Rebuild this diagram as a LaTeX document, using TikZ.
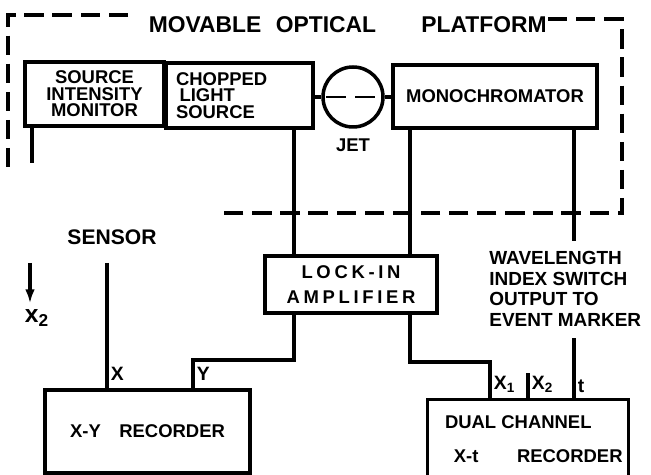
\documentclass[tikz,border=0pt]{standalone}
\usepackage{fontspec}
\setmainfont{Liberation Sans}
\usetikzlibrary{arrows.meta,positioning}
\tikzset{
	font=\bfseries\fontsize{10.5}{9.4}\selectfont,
	>={Latex[length=8pt,width=5.5pt]},
	box/.style={draw, line width=2pt, inner sep=0pt, align=center},
	wire/.style={line width=2pt},
	platform/.style={line width=2.6pt, dash pattern=on 11pt off 5pt},
	title/.style={font=\bfseries\fontsize{13}{15}\selectfont},
	note/.style={font=\bfseries\fontsize{10.8}{11.8}\selectfont},
	lbl/.style={font=\bfseries\fontsize{11}{12}\selectfont, inner xsep=2pt, inner ysep=4pt}
}
\newcommand{\spaced}[1]{{\addfontfeature{LetterSpace=20}#1}}

\begin{document}
\begin{tikzpicture}[x=0.02cm, y=-0.02cm]  % pixel-like units, y downwards
\useasboundingbox (0,0) rectangle (651,475);

% movable optical platform
\draw[platform] (128,15) -- (8,15) -- (8,167);
\draw[platform] (548,19) -- (622,19) -- (622,213) -- (223,213);
\node[title] (movable) at (205,25) {MOVABLE};
\node[title] (optical) at (326,25) {OPTICAL};
\node[title] (platform) at (484,25) {PLATFORM};

% boxes on the platform
\node[box, minimum width=2.78cm, minimum height=1.28cm] (monitor) at (94.5,94) {SOURCE\\INTENSITY\\MONITOR};
\node[box, minimum width=2.94cm, minimum height=1.3cm, text width=2.54cm, inner xsep=0.2cm, align=left] (chopper) at (239.5,95.5) {CHOPPED\\\hspace*{2pt}LIGHT\\SOURCE};
\node[draw, circle, line width=2pt, minimum size=1.2cm] (jet) at (353,97) {};
\node (jetlabel) [below=2pt of jet] {JET};
\node[box, minimum width=4.08cm, minimum height=1.26cm] (mono) at (495,96.5) {MONOCHROMATOR};

% boxes below
\node[box, minimum width=3.44cm, minimum height=1.14cm] (amp) at (351,284.5) {\spaced{LOCK-IN}\\[4.5pt]\spaced{AMPLIFIER}};
\node[box, minimum width=4.1cm, minimum height=1.66cm] (xy) at (147.5,431.5) {X-Y\hspace{1em}RECORDER};
\node[minimum width=4cm, minimum height=1.5cm, inner sep=0pt] (dual) at (528,437.5) {};
\draw[wire] (dual.south west) -- (dual.north west) -- (dual.north east) -- (dual.south east);
\node[anchor=north west, align=left, inner sep=0pt] (dualtext) at ([xshift=0.34cm, yshift=-0.32cm]dual.north west) {DUAL CHANNEL\\[10pt]\hspace*{5pt}X-t\hspace{22pt}RECORDER};

% free labels
\node[font=\bfseries\fontsize{12}{14}\selectfont] (sensor) at (112,237) {SENSOR};
\node[note, anchor=west, align=left, inner sep=0pt] (wave) at (489,289) {WAVELENGTH\\INDEX SWITCH\\OUTPUT TO\\EVENT MARKER};
\node[font=\bfseries\fontsize{14}{16}\selectfont] (xtwo) at (37,318) {x\textsubscript{2}};

% wire positions
\coordinate (ych) at (294,0);
\coordinate (xch) at (410,0);
\coordinate (tch) at (574,0);
\coordinate (yin) at (193,0);
\coordinate (xonein) at (490,0);
\coordinate (xtwoin) at (528,373);
\coordinate (ybend) at (294,360);
\coordinate (xbend) at (410,362);
\coordinate (sens) at (107,263);
\coordinate (monend) at (32,163);
\coordinate (arrtop) at (30,263);

% connections
\draw[wire] (monend |- monitor.south) -- (monend);
\draw[wire] (chopper.east |- jet.west) -- (jet.west);
\draw[line width=1.4pt, dash pattern=on 11pt off 5.5pt] ([xshift=0.1cm]jet.west) -- ([xshift=-0.1cm]jet.east);
\draw[wire] (jet.east) -- (jet.east -| mono.west);
\draw[wire] (ych |- chopper.south) -- (ych |- amp.north);
\draw[wire] (xch |- mono.south) -- (xch |- amp.north);
\draw[wire] (tch |- mono.south) -- ([yshift=0.2cm]tch |- wave.north);
\draw[wire] ([yshift=-0.22cm]tch |- wave.south) -- (tch |- dual.north);
\draw[wire] (ych |- amp.south) -- (ybend) -| (yin |- xy.north);
\draw[wire] (xch |- amp.south) -- (xbend) -| (xonein |- dual.north);
\draw[wire] (xtwoin) -- (xtwoin |- dual.north);
\draw[wire] (sens) -- (sens |- xy.north);
\draw[->, line width=2.6pt] (arrtop) -- (arrtop |- xtwo.north);

% input labels
\node[lbl, anchor=south west] (xlab) at (sens |- xy.north) {X};
\node[lbl, anchor=south west] (ylab) at (yin |- xy.north) {Y};
\node[lbl, anchor=south west] (xonelab) at (xonein |- dual.north) {X\textsubscript{1}};
\node[lbl, anchor=south west] (xtwolab) at (xtwoin |- dual.north) {X\textsubscript{2}};
\node[lbl, anchor=south west] (tlab) at (tch |- dual.north) {t};

\end{tikzpicture}
\end{document}
